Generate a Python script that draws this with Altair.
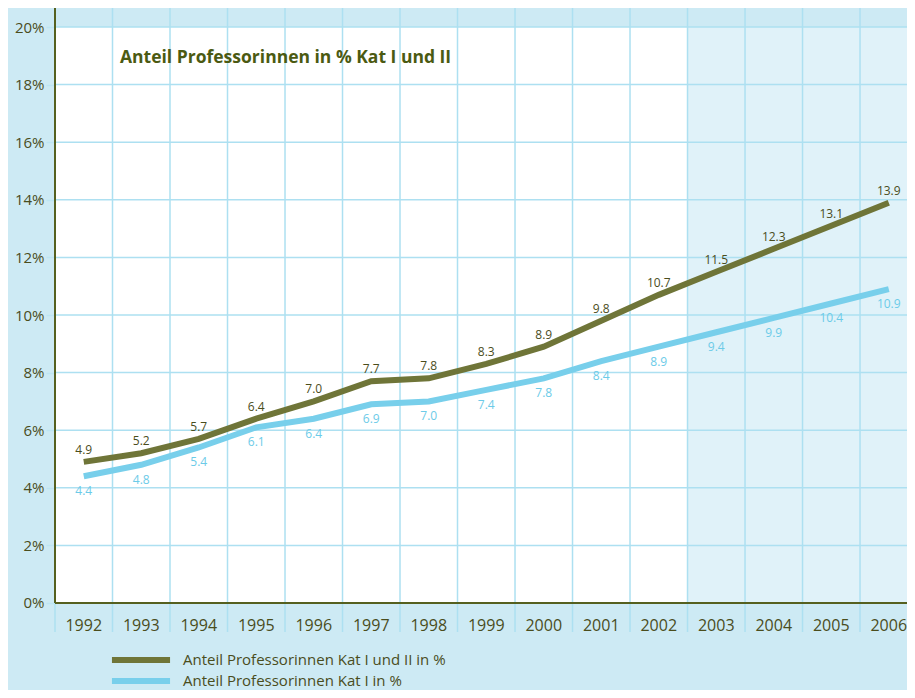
import altair as alt
import pandas as pd

years = list(range(1992, 2007))
kat_1_2 = [4.9, 5.2, 5.7, 6.4, 7.0, 7.7, 7.8, 8.3, 8.9, 9.8, 10.7, 11.5, 12.3, 13.1, 13.9]
kat_1 = [4.4, 4.8, 5.4, 6.1, 6.4, 6.9, 7.0, 7.4, 7.8, 8.4, 8.9, 9.4, 9.9, 10.4, 10.9]
series_names = ["Anteil Professorinnen Kat I und II in %", "Anteil Professorinnen Kat I in %"]
y_ticks = list(range(0, 21, 2))
title_text = "Anteil Professorinnen in % Kat I und II"

FONT = "Open Sans"
BG = "#cdeaf4"
SHADE = "#e0f2f9"
GRID = "#ade0f1"
DARK = "#6f7538"
LIGHT = "#78cfeb"
AXIS = "#55601f"
TXT = "#4a4d1c"

X_DOM = [1991.5, 2006.317]
Y_DOM = [-1.007, 20.66]
xs = alt.Scale(domain=X_DOM, nice=False, zero=False)
ys = alt.Scale(domain=Y_DOM, nice=False, zero=False)
YAX = alt.Axis(values=y_ticks, labelExpr="datum.value + '%'", title=None,
               domain=False, grid=False, ticks=True, tickSize=9,
               tickColor="#bde5f3", tickWidth=1.5,
               labelFont=FONT, labelFontSize=15, labelColor=TXT, labelPadding=2)

rows = []
for i, y in enumerate(years):
    rows.append({"year": y, "value": kat_1_2[i], "series": series_names[0]})
    rows.append({"year": y, "value": kat_1[i], "series": series_names[1]})
df = pd.DataFrame(rows)

regions = pd.DataFrame({"x": [1991.5, 2002.5], "x2": [2002.5, 2006.317],
                        "y": [0, 0], "y2": [20, 20], "fill": ["#ffffff", SHADE]})
hgrid = pd.DataFrame({"y": y_ticks[1:], "x": 1991.5, "x2": 2006.317})
bounds = [y - 0.5 for y in years]
vgrid = pd.DataFrame({"x": bounds, "y": Y_DOM[0], "y2": Y_DOM[1]})
yaxis_df = pd.DataFrame({"x": [1991.5], "y": [0], "y2": [Y_DOM[1]]})
xaxis_df = pd.DataFrame({"x": [1991.5], "x2": [2006.317], "y": [0]})
xlab = pd.DataFrame({"year": years, "y": -0.8})

def X(f):
    return alt.X(f, scale=xs, axis=None)

def Y(f):
    return alt.Y(f, scale=ys, axis=YAX)

rects = alt.Chart(regions).mark_rect().encode(
    x=X("x:Q"), x2="x2:Q", y=Y("y:Q"), y2="y2:Q",
    fill=alt.Fill("fill:N", scale=None),
)
hg = alt.Chart(hgrid).mark_rule(color=GRID, strokeWidth=1.5).encode(
    x=X("x:Q"), x2="x2:Q", y=Y("y:Q"))
vg = alt.Chart(vgrid).mark_rule(color=GRID, strokeWidth=1.5).encode(
    x=X("x:Q"), y=Y("y:Q"), y2="y2:Q")
ya = alt.Chart(yaxis_df).mark_rule(color=AXIS, strokeWidth=2).encode(
    x=X("x:Q"), y=Y("y:Q"), y2="y2:Q")
xa = alt.Chart(xaxis_df).mark_rule(color=AXIS, strokeWidth=2).encode(
    x=X("x:Q"), x2="x2:Q", y=Y("y:Q"))

lines = alt.Chart(df).mark_line(strokeWidth=6).encode(
    x=X("year:Q"), y=Y("value:Q"),
    color=alt.Color("series:N", scale=alt.Scale(domain=series_names, range=[DARK, LIGHT]),
                    sort=series_names,
                    legend=alt.Legend(title=None, orient="none", legendX=77, legendY=643,
                                      symbolType="M-5,0L5,0", symbolStrokeWidth=6,
                                      symbolSize=135, labelFont=FONT, labelFontSize=15,
                                      labelColor=TXT, labelOffset=33, rowPadding=-3,
                                      labelLimit=500)),
)

lab_dark = alt.Chart(df[df.series == series_names[0]]).mark_text(
    font=FONT, fontSize=12, color=TXT, dy=-12).encode(
    x=X("year:Q"), y=Y("value:Q"), text=alt.Text("value:Q", format=".1f"))
lab_light = alt.Chart(df[df.series == series_names[1]]).mark_text(
    font=FONT, fontSize=12, color="#6ccbe8", dy=15).encode(
    x=X("year:Q"), y=Y("value:Q"), text=alt.Text("value:Q", format=".1f"))

xl = alt.Chart(xlab).mark_text(font=FONT, fontSize=16, color=TXT, baseline="middle").encode(
    x=X("year:Q"), y=Y("y:Q"), text="year:N")

title = alt.Chart(pd.DataFrame({"t": [title_text]})).mark_text(
    font=FONT, fontSize=17.5, fontWeight="bold", color="#4b5a12", align="left",
    baseline="middle").encode(x=alt.value(65), y=alt.value(50), text="t:N")

chart = alt.layer(rects, vg, hg, ya, xa, lines, lab_dark, lab_light, xl, title).properties(
    width=852, height=624,
    autosize=alt.AutoSizeParams(type="none"),
    padding={"left": 47, "top": 0, "right": 0, "bottom": 58},
    background=BG,
).configure_view(stroke=None, fill=None)

chart.save("out.html", embed_options={"renderer": "svg", "actions": False})
